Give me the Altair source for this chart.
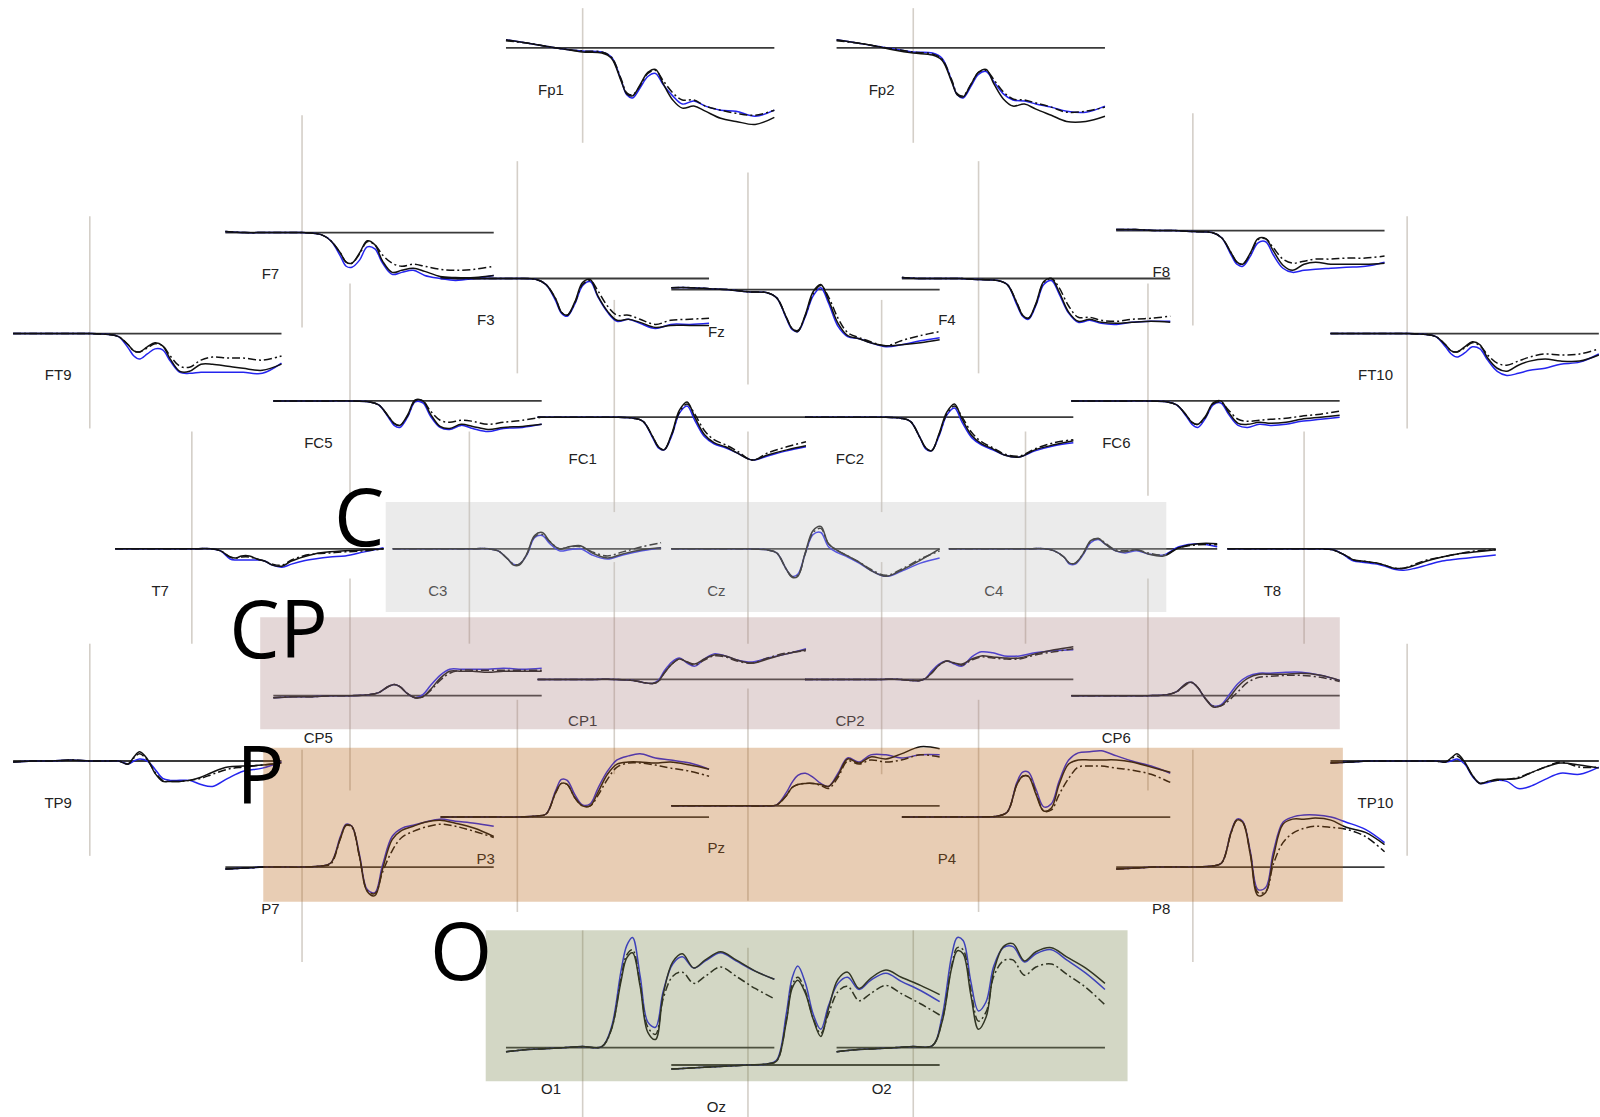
import altair as alt
import pandas as pd

# ---------------- data ----------------
TIMES = [-200, -150, -100, -50, 0, 50, 75, 100, 115, 130, 150, 170, 190, 210, 235, 260, 290, 320, 360, 400, 450, 500]

CHANNELS = ["Fp1", "Fp2", "F7", "F3", "Fz", "F4", "F8", "FT9", "FC5", "FC1", "FC2", "FC6", "FT10",
            "T7", "C3", "Cz", "C4", "T8", "TP9", "CP5", "CP1", "CP2", "CP6", "TP10",
            "P7", "P3", "Pz", "P4", "P8", "O1", "Oz", "O2"]

# layout of the topographic grid: x of time zero, y of the zero line (reference pixel grid)
ZERO_X = [571, 895, 296, 507, 733, 959, 1169, 88, 343, 602, 864, 1125, 1379,
          188, 460, 733, 1005, 1278, 88, 343, 602, 864, 1125, 1379,
          296, 507, 733, 959, 1169, 571, 733, 895]
BASE_Y = [47, 47, 228, 273, 284, 273, 226, 327, 393, 409, 409, 393, 327,
          538, 538, 538, 538, 538, 746, 682, 666, 666, 682, 746,
          850, 801, 790, 801, 850, 1027, 1044, 1027]

# amplitudes (positive = up), condition 1 (blue solid)
BLUE = {
    "Fp1": [8, 5, 2, -1, -3, -4, -9, -31, -46, -49, -39, -28, -25, -36, -47, -55, -52, -57, -61, -62, -67, -61],
    "Fp2": [8, 5, 2, -1, -4, -5, -10, -32, -46, -49, -38, -26, -23, -33, -45, -51, -52, -55, -58, -62, -63, -57],
    "F7": [1, 0, 0, 0, 0, -2, -8, -23, -33, -34, -27, -14, -16, -30, -41, -39, -37, -42, -45, -47, -45, -42],
    "F3": [1, 0, 0, 0, 0, -1, -6, -22, -34, -37, -25, -7, -3, -18, -33, -42, -40, -44, -49, -45, -45, -44],
    "Fz": [2, 2, 1, 0, -2, -3, -8, -28, -39, -41, -26, -6, 2, -13, -36, -46, -48, -52, -56, -54, -50, -47],
    "F4": [1, 0, 0, 0, -1, -2, -6, -26, -37, -40, -26, -6, -2, -15, -34, -43, -41, -44, -45, -43, -42, -42],
    "F8": [1, 1, 0, 0, -1, -2, -7, -24, -33, -35, -25, -12, -11, -24, -37, -41, -39, -38, -37, -36, -35, -31],
    "FT9": [0, 0, 0, 0, 0, -1, -3, -14, -22, -25, -20, -15, -16, -27, -38, -39, -38, -38, -38, -38, -39, -29],
    "FC5": [0, 0, 0, 0, 0, -1, -4, -16, -24, -26, -16, -1, -2, -15, -26, -28, -24, -27, -30, -27, -26, -23],
    "FC1": [0, 0, 0, 0, 0, -1, -4, -20, -30, -32, -18, 4, 11, -3, -19, -26, -30, -35, -42, -38, -33, -29],
    "FC2": [0, 0, 0, 0, 0, -1, -4, -20, -31, -33, -18, 2, 9, -5, -20, -27, -32, -37, -39, -33, -28, -25],
    "FC6": [0, 0, 0, 0, 0, -1, -4, -15, -23, -26, -17, -4, -2, -13, -24, -26, -23, -24, -23, -20, -18, -16],
    "FT10": [0, 0, 0, 0, 0, -1, -3, -13, -20, -23, -19, -13, -15, -26, -37, -41, -39, -36, -34, -30, -28, -20],
    "T7": [0, 0, 0, 0, 0, 0, -2, -10, -11, -11, -11, -11, -12, -16, -18, -15, -12, -10, -8, -7, -3, 1],
    "C3": [0, 0, 0, 0, 0, 0, -2, -10, -15, -15, -6, 11, 13, 5, -2, -1, 0, -6, -10, -6, -2, 1],
    "Cz": [0, 0, 0, 0, 0, -1, -4, -20, -27, -25, -4, 14, 16, 2, -4, -8, -14, -21, -27, -22, -14, -9],
    "C4": [0, 0, 0, 0, 0, 0, -2, -8, -15, -15, -6, 6, 9, 4, -2, -4, -2, -5, -6, 2, 5, 2],
    "T8": [0, 0, 0, 0, 0, 0, -1, -5, -9, -12, -13, -14, -15, -17, -20, -21, -19, -16, -12, -10, -8, -6],
    "TP9": [-1, 0, 0, 1, 0, 0, 0, -3, 0, 2, 0, -8, -17, -19, -19, -19, -23, -25, -17, -10, -7, -1],
    "CP5": [-2, -1, -1, 0, 0, 1, 3, 9, 11, 9, 2, -2, 1, 10, 20, 26, 26, 26, 26, 27, 26, 27],
    "CP1": [0, 0, 0, 0, 0, -1, -3, -4, -1, 8, 17, 21, 16, 13, 20, 25, 23, 19, 17, 21, 25, 30],
    "CP2": [0, 0, 0, 0, 0, 0, -1, -1, 1, 8, 15, 18, 15, 13, 22, 27, 26, 23, 23, 26, 28, 29],
    "CP6": [0, 0, 0, 0, 0, 1, 4, 12, 13, 8, -3, -10, -9, 0, 12, 19, 22, 22, 23, 23, 20, 15],
    "TP10": [-2, -1, 0, 0, 0, 0, 0, -1, 0, 2, -3, -15, -22, -21, -19, -20, -27, -25, -18, -12, -13, -6],
    "P7": [-2, -1, 0, 0, 0, 1, 4, 30, 42, 40, 12, -22, -25, 2, 30, 38, 41, 44, 47, 45, 43, 40],
    "P3": [0, 0, 0, 0, 0, 1, 3, 26, 37, 36, 22, 12, 13, 28, 45, 56, 60, 62, 58, 56, 53, 47],
    "Pz": [0, 0, 0, 0, 0, 0, 1, 13, 23, 30, 32, 28, 22, 19, 32, 47, 43, 50, 50, 47, 50, 50],
    "P4": [0, 0, 0, 0, 0, 1, 5, 34, 44, 44, 27, 10, 13, 35, 56, 63, 64, 65, 60, 55, 50, 43],
    "P8": [-2, -1, 0, 0, 0, 1, 4, 35, 47, 45, 15, -22, -20, 15, 44, 49, 51, 51, 49, 44, 37, 24],
    "O1": [-4, -2, -1, 0, 1, 1, 20, 75, 100, 108, 70, 25, 20, 55, 82, 89, 78, 85, 93, 85, 75, 67],
    "Oz": [-4, -3, -2, -1, 0, 1, 5, 50, 85, 97, 80, 50, 35, 58, 80, 86, 74, 83, 90, 82, 73, 62],
    "O2": [-4, -2, -1, 0, 1, 2, 30, 90, 108, 105, 65, 36, 45, 80, 98, 99, 84, 92, 96, 86, 73, 57],
}

# condition 2 (black solid)
BLACK = {
    "Fp1": [8, 5, 2, -1, -4, -5, -10, -32, -45, -47, -36, -24, -21, -35, -51, -59, -57, -62, -69, -72, -75, -68],
    "Fp2": [8, 5, 2, -2, -5, -7, -12, -33, -46, -48, -36, -24, -21, -35, -50, -57, -55, -60, -66, -72, -72, -67],
    "F7": [1, 0, 0, 0, 0, -2, -8, -20, -29, -30, -20, -8, -12, -28, -39, -37, -35, -38, -43, -44, -44, -42],
    "F3": [1, 0, 0, 0, 0, -1, -6, -20, -33, -36, -23, -4, -1, -17, -32, -41, -40, -43, -48, -46, -46, -46],
    "Fz": [2, 2, 1, 0, -2, -3, -8, -27, -38, -41, -24, -2, 5, -10, -33, -45, -48, -52, -55, -54, -52, -49],
    "F4": [1, 0, 0, 0, -1, -2, -6, -24, -36, -39, -24, -3, 0, -13, -33, -42, -40, -43, -44, -43, -42, -43],
    "F8": [1, 1, 0, 0, -1, -2, -7, -22, -31, -33, -22, -8, -8, -20, -34, -39, -33, -31, -33, -33, -33, -32],
    "FT9": [0, 0, 0, 0, 0, -1, -3, -11, -17, -18, -13, -9, -12, -25, -37, -37, -30, -30, -32, -34, -36, -30],
    "FC5": [0, 0, 0, 0, 0, -1, -4, -15, -22, -24, -14, 1, 0, -13, -25, -27, -23, -25, -28, -26, -25, -23],
    "FC1": [0, 0, 0, 0, 0, -1, -4, -19, -29, -32, -16, 7, 15, 0, -17, -25, -29, -35, -42, -37, -32, -28],
    "FC2": [0, 0, 0, 0, 0, -1, -4, -20, -30, -33, -16, 5, 13, -2, -18, -26, -31, -37, -39, -32, -27, -23],
    "FC6": [0, 0, 0, 0, 0, -1, -4, -14, -21, -23, -15, -2, 0, -11, -22, -23, -21, -22, -21, -18, -16, -14],
    "FT10": [0, 0, 0, 0, 0, -1, -3, -11, -17, -18, -13, -8, -11, -24, -34, -37, -31, -27, -25, -27, -27, -21],
    "T7": [0, 0, 0, 0, 0, 0, -2, -8, -9, -7, -7, -10, -12, -16, -17, -12, -8, -5, -3, -2, -1, 0],
    "C3": [0, 0, 0, 0, 0, 0, -2, -10, -16, -16, -5, 13, 16, 7, 0, 2, 3, -4, -9, -5, -1, 1],
    "Cz": [0, 0, 0, 0, 0, -1, -4, -20, -28, -27, -3, 18, 22, 5, -2, -7, -13, -21, -27, -21, -11, 0],
    "C4": [0, 0, 0, 0, 0, 0, -2, -8, -14, -14, -5, 8, 10, 4, -2, -3, -1, -5, -7, 1, 5, 5],
    "T8": [0, 0, 0, 0, 0, 0, -1, -5, -8, -11, -12, -13, -14, -16, -19, -19, -16, -12, -8, -5, -3, -1],
    "TP9": [-1, 0, 0, 1, 0, 0, 0, -3, 4, 9, 2, -12, -20, -20, -20, -19, -16, -11, -6, -5, -4, -2],
    "CP5": [-2, -1, -1, 0, 0, 1, 3, 9, 11, 9, 2, -2, -1, 6, 17, 24, 24, 24, 23, 24, 24, 24],
    "CP1": [0, 0, 0, 0, 0, -1, -3, -4, -2, 6, 15, 20, 17, 15, 20, 24, 23, 19, 16, 20, 25, 29],
    "CP2": [0, 0, 0, 0, 0, 0, -1, -1, 1, 6, 14, 18, 16, 15, 20, 23, 22, 21, 21, 25, 29, 32],
    "CP6": [0, 0, 0, 0, 0, 1, 4, 12, 13, 8, -3, -11, -10, -3, 9, 17, 21, 21, 21, 22, 20, 15],
    "TP10": [-2, -1, 0, 0, 0, 0, 0, -1, 3, 7, -1, -14, -22, -20, -18, -18, -17, -12, -6, -2, -4, -7],
    "P7": [-2, -1, 0, 0, 0, 1, 4, 28, 41, 40, 10, -24, -28, -2, 27, 36, 40, 44, 46, 43, 38, 30],
    "P3": [0, 0, 0, 0, 0, 1, 3, 24, 33, 32, 19, 11, 11, 24, 42, 52, 54, 54, 53, 54, 51, 47],
    "Pz": [0, 0, 0, 0, 0, 0, 1, 10, 18, 21, 22, 22, 21, 19, 30, 46, 42, 48, 46, 51, 58, 56],
    "P4": [0, 0, 0, 0, 0, 1, 5, 32, 40, 40, 22, 6, 9, 32, 52, 56, 56, 56, 56, 54, 49, 44],
    "P8": [-2, -1, 0, 0, 0, 1, 4, 34, 46, 44, 12, -28, -25, 10, 42, 47, 47, 48, 46, 39, 34, 22],
    "O1": [-4, -2, -1, 0, 1, 1, 18, 65, 88, 93, 60, 15, 8, 52, 84, 92, 78, 86, 94, 86, 75, 67],
    "Oz": [-4, -3, -2, -1, 0, 1, 4, 42, 75, 83, 70, 45, 28, 55, 84, 91, 75, 85, 93, 86, 78, 69],
    "O2": [-4, -2, -1, 0, 1, 2, 25, 78, 95, 92, 52, 18, 30, 75, 99, 102, 85, 94, 98, 89, 78, 63],
}

# condition 3 (black dash-dot)
DASHDOT = {
    "Fp1": [7, 5, 2, -1, -3, -4, -9, -30, -44, -46, -37, -25, -22, -32, -44, -51, -51, -57, -61, -64, -66, -61],
    "Fp2": [7, 5, 2, -1, -4, -6, -11, -31, -45, -47, -36, -24, -22, -31, -43, -50, -51, -54, -58, -63, -62, -58],
    "F7": [1, 0, 0, 0, 0, -2, -8, -20, -29, -30, -21, -9, -12, -22, -30, -33, -31, -33, -36, -37, -36, -33],
    "F3": [1, 0, 0, 0, 0, -1, -6, -20, -33, -36, -24, -6, -2, -12, -27, -36, -36, -40, -45, -41, -40, -39],
    "Fz": [2, 2, 1, 0, -2, -3, -8, -27, -38, -40, -25, -4, 4, -7, -28, -42, -47, -51, -55, -50, -45, -41],
    "F4": [1, 0, 0, 0, -1, -2, -6, -24, -36, -39, -25, -4, 0, -9, -27, -38, -38, -41, -42, -40, -39, -37],
    "F8": [1, 1, 0, 0, -1, -2, -7, -22, -31, -33, -23, -9, -8, -17, -28, -32, -30, -28, -28, -27, -27, -25],
    "FT9": [0, 0, 0, 0, 0, -1, -3, -11, -17, -18, -14, -10, -12, -22, -32, -33, -26, -23, -24, -24, -26, -22],
    "FC5": [0, 0, 0, 0, 0, -1, -4, -15, -22, -24, -15, 0, 0, -10, -19, -21, -19, -20, -23, -21, -19, -16],
    "FC1": [0, 0, 0, 0, 0, -1, -4, -19, -29, -32, -17, 5, 13, 3, -13, -22, -27, -33, -42, -35, -29, -24],
    "FC2": [0, 0, 0, 0, 0, -1, -4, -20, -30, -33, -17, 3, 11, 0, -15, -24, -30, -36, -38, -31, -25, -22],
    "FC6": [0, 0, 0, 0, 0, -1, -4, -14, -21, -23, -16, -3, -1, -9, -18, -20, -19, -18, -17, -15, -13, -10],
    "FT10": [0, 0, 0, 0, 0, -1, -3, -11, -17, -18, -14, -9, -12, -21, -29, -31, -27, -23, -20, -21, -20, -15],
    "T7": [0, 0, 0, 0, 0, 0, -2, -8, -9, -8, -8, -10, -12, -15, -16, -11, -7, -5, -4, -3, -2, 0],
    "C3": [0, 0, 0, 0, 0, 0, -2, -10, -15, -15, -5, 12, 14, 7, 0, 2, 2, -3, -7, -3, 2, 6],
    "Cz": [0, 0, 0, 0, 0, -1, -4, -20, -27, -26, -4, 16, 20, 5, -2, -7, -13, -20, -26, -20, -10, -2],
    "C4": [0, 0, 0, 0, 0, 0, -2, -8, -14, -14, -5, 7, 10, 5, -1, -2, -1, -4, -6, 1, 4, 4],
    "T8": [0, 0, 0, 0, 0, 0, -1, -5, -8, -11, -12, -13, -14, -16, -19, -19, -15, -11, -8, -5, -2, -1],
    "TP9": [-1, 0, 0, 1, 0, 0, 0, -3, 3, 7, 1, -11, -19, -20, -20, -19, -17, -13, -8, -6, -4, -2],
    "CP5": [-2, -1, -1, 0, 0, 1, 3, 9, 11, 9, 2, -2, -1, 5, 15, 22, 25, 25, 25, 25, 25, 25],
    "CP1": [0, 0, 0, 0, 0, -1, -3, -4, -2, 6, 15, 20, 17, 14, 19, 23, 22, 18, 16, 21, 26, 28],
    "CP2": [0, 0, 0, 0, 0, 0, -1, -1, 1, 6, 14, 18, 16, 14, 19, 22, 21, 20, 20, 24, 27, 30],
    "CP6": [0, 0, 0, 0, 0, 1, 4, 11, 13, 8, -3, -10, -10, -5, 4, 13, 18, 19, 20, 20, 18, 14],
    "TP10": [-2, -1, 0, 0, 0, 0, 0, -1, 2, 5, -2, -14, -22, -20, -19, -18, -16, -12, -6, -1, -6, -6],
    "P7": [-2, -1, 0, 0, 0, 1, 3, 28, 41, 39, 10, -23, -26, -5, 16, 29, 35, 39, 42, 40, 35, 29],
    "P3": [0, 0, 0, 0, 0, 1, 3, 24, 33, 32, 19, 11, 11, 21, 37, 49, 53, 53, 51, 48, 45, 40],
    "Pz": [0, 0, 0, 0, 0, 0, 1, 10, 18, 21, 22, 22, 20, 17, 28, 44, 41, 45, 43, 45, 50, 48],
    "P4": [0, 0, 0, 0, 0, 1, 5, 32, 40, 40, 24, 6, 7, 22, 38, 49, 50, 50, 48, 46, 42, 34],
    "P8": [-2, -1, 0, 0, 0, 1, 4, 34, 46, 44, 13, -25, -24, 3, 24, 33, 38, 40, 39, 37, 30, 15],
    "O1": [-4, -2, -1, 0, 1, 1, 18, 68, 91, 96, 62, 20, 13, 48, 70, 74, 63, 70, 79, 70, 58, 48],
    "Oz": [-4, -3, -2, -1, 0, 1, 4, 44, 78, 86, 72, 46, 31, 50, 72, 77, 63, 70, 78, 70, 60, 49],
    "O2": [-4, -2, -1, 0, 1, 2, 26, 80, 98, 96, 57, 26, 35, 70, 85, 86, 71, 79, 82, 72, 59, 42],
}

# highlighted regions
REGION_NAMES = ["C", "CP", "P", "O"]
REGION_X0 = [378, 255, 258, 476]
REGION_X1 = [1143, 1313, 1316, 1105]
REGION_Y0 = [492, 605, 733, 912]
REGION_Y1 = [600, 715, 884, 1060]
REGION_TINT = ["#c1c1c1", "#ab8282", "#b76315", "#76824a"]
LETTER_X = [352, 273, 255, 452]
LETTER_Y = [535, 645, 788, 961]

# ---------------- geometry constants ----------------
PX_PER_MS = 263 / 700      # horizontal extent of one epoch (-200..500 ms)
PX_PER_UV = 1.0
AXIS_UP, AXIS_DOWN = 115, 93
TOP_CLIP = 8

# ---------------- tables ----------------
trace_rows = []
for cond, table in [("blue", BLUE), ("solid", BLACK), ("dashdot", DASHDOT)]:
    for ch, zx, by in zip(CHANNELS, ZERO_X, BASE_Y):
        for t, v in zip(TIMES, table[ch]):
            trace_rows.append({"cond": cond, "ch": ch, "t": t,
                               "x": zx + t * PX_PER_MS, "y": by - v * PX_PER_UV})
traces = pd.DataFrame(trace_rows)

frame = pd.DataFrame({
    "ch": CHANNELS,
    "zx": ZERO_X,
    "by": BASE_Y,
})
frame["x0"] = frame["zx"] + TIMES[0] * PX_PER_MS
frame["x1"] = frame["zx"] + TIMES[-1] * PX_PER_MS
frame["vtop"] = (frame["by"] - AXIS_UP).clip(lower=TOP_CLIP)
frame["vbot"] = frame["by"] + AXIS_DOWN
frame["lx"] = frame["zx"] - 31
frame["ly"] = frame["by"] + 41

regions = pd.DataFrame({
    "name": REGION_NAMES, "x0": REGION_X0, "x1": REGION_X1,
    "y0": REGION_Y0, "y1": REGION_Y1, "tint": REGION_TINT,
    "lx": LETTER_X, "ly": LETTER_Y,
})

XS = alt.Scale(domain=[0, 1568], range=[0, 1600], nice=False, zero=False)
YS = alt.Scale(domain=[0, 1095], range=[0, 1117], nice=False, zero=False)


def X(f):
    return alt.X(f, type="quantitative", scale=XS, axis=None)


def Y(f):
    return alt.Y(f, type="quantitative", scale=YS, axis=None)


vlines = alt.Chart(frame).mark_rule(color="#d4cfc8", strokeWidth=1.6).encode(
    x=X("zx"), y=Y("vtop"), y2="vbot")

hlines = alt.Chart(frame).mark_rule(color="#3a3a3a", strokeWidth=1.8).encode(
    x=X("x0"), x2="x1", y=Y("by"))

blue = alt.Chart(traces[traces.cond == "blue"]).mark_line(
    color="#2424ee", strokeWidth=1.5, interpolate="catmull-rom").encode(
    x=X("x"), y=Y("y"), detail="ch:N", order="t:Q")

solid = alt.Chart(traces[traces.cond == "solid"]).mark_line(
    color="#111111", strokeWidth=1.5, interpolate="catmull-rom").encode(
    x=X("x"), y=Y("y"), detail="ch:N", order="t:Q")

dashdot = alt.Chart(traces[traces.cond == "dashdot"]).mark_line(
    color="#111111", strokeWidth=1.5, interpolate="catmull-rom",
    strokeDash=[8, 3, 2, 3]).encode(
    x=X("x"), y=Y("y"), detail="ch:N", order="t:Q")

labels = alt.Chart(frame).mark_text(
    font="Liberation Sans", fontSize=15, color="#222222",
    align="center", baseline="middle").encode(
    x=X("lx"), y=Y("ly"), text="ch:N")

shades = alt.Chart(regions).mark_rect(opacity=0.32).encode(
    x=X("x0"), x2="x1", y=Y("y0"), y2="y1",
    color=alt.Color("tint:N", scale=None))

letters = alt.Chart(regions).mark_text(
    font="Open Sans", fontSize=80, color="#000000",
    align="center", baseline="alphabetic").encode(
    x=X("lx"), y=Y("ly"), text="name:N")

chart = alt.layer(vlines, hlines, blue, solid, dashdot, labels, shades, letters).properties(
    width=1600, height=1117, padding=0,
    autosize=alt.AutoSizeParams(type="none"),
    background="white",
).configure_view(stroke=None)

chart.save("out.html", embed_options={"renderer": "svg", "actions": False})
